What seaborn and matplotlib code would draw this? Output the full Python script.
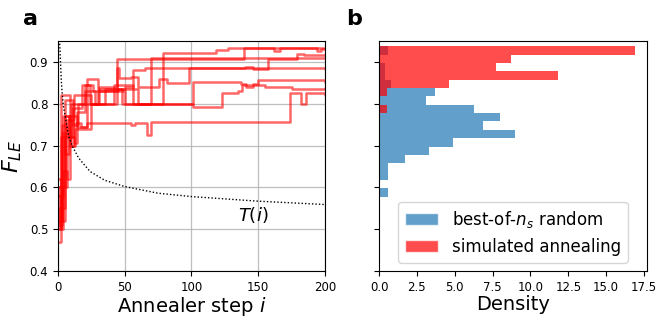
import numpy as np
import pandas as pd
import matplotlib
matplotlib.use("Agg")
import matplotlib.pyplot as plt
from matplotlib.patches import Patch
import seaborn as sns

sns.set_style("ticks")
plt.rcParams["font.family"] = ["DejaVu Sans"]
plt.rcParams["mathtext.fontset"] = "dejavusans"
plt.rcParams["text.color"] = "black"
plt.rcParams["axes.labelcolor"] = "black"
plt.rcParams["xtick.color"] = "black"
plt.rcParams["ytick.color"] = "black"

# ---- panel a: annealing traces (step change points: step, F_LE) ----
run_steps = [
    [0, 1, 2, 9, 12, 25, 35, 48, 79, 118, 127, 162, 166, 200],
    [0, 2, 4, 8, 10, 20, 28, 44, 139, 194, 197, 200],
    [0, 3, 6, 11, 18, 24, 31, 44, 46, 55, 60, 70, 200],
    [0, 1, 3, 5, 8, 14, 22, 30, 40, 50, 56, 65, 140, 146, 157, 179, 184, 200],
    [0, 2, 4, 7, 9, 12, 14, 20, 26, 45, 60, 70, 76, 82, 98, 200],
    [0, 3, 5, 9, 13, 20, 25, 35, 42, 50, 56, 101, 137, 141, 146, 150, 200],
    [0, 2, 5, 11, 15, 30, 50, 101, 123, 135, 138, 150, 155, 170, 175, 200],
    [0, 2, 5, 7, 10, 12, 17, 22, 55, 58, 67, 70, 174, 182, 186, 200],
]
run_values = [
    [0.50, 0.60, 0.822, 0.76, 0.82, 0.80, 0.835, 0.80, 0.921, 0.929, 0.934, 0.926, 0.934, 0.934],
    [0.47, 0.58, 0.77, 0.72, 0.80, 0.83, 0.80, 0.907, 0.934, 0.925, 0.930, 0.930],
    [0.52, 0.75, 0.72, 0.79, 0.845, 0.80, 0.84, 0.885, 0.862, 0.865, 0.84, 0.909, 0.909],
    [0.55, 0.51, 0.73, 0.68, 0.77, 0.745, 0.86, 0.835, 0.835, 0.84, 0.88, 0.885, 0.887, 0.882, 0.907, 0.920, 0.917, 0.917],
    [0.58, 0.50, 0.64, 0.62, 0.72, 0.705, 0.78, 0.845, 0.83, 0.835, 0.80, 0.84, 0.86, 0.85, 0.885, 0.883],
    [0.60, 0.52, 0.77, 0.70, 0.74, 0.74, 0.80, 0.80, 0.845, 0.845, 0.80, 0.853, 0.847, 0.84, 0.847, 0.857, 0.852],
    [0.62, 0.55, 0.81, 0.75, 0.80, 0.83, 0.80, 0.793, 0.826, 0.83, 0.845, 0.845, 0.84, 0.84, 0.835, 0.837],
    [0.50, 0.72, 0.60, 0.76, 0.70, 0.755, 0.745, 0.755, 0.75, 0.755, 0.725, 0.756, 0.825, 0.80, 0.825, 0.822],
]

# temperature schedule curve T(i)
temp_steps = [1.0, 1.5, 2, 2.5, 3, 4, 5.5, 8, 11, 15.5, 24, 35, 50, 75, 100, 150, 200]
temp_values = [0.96, 0.93, 0.89, 0.855, 0.83, 0.795, 0.768, 0.722, 0.697, 0.67, 0.638,
               0.617, 0.602, 0.586, 0.578, 0.567, 0.559]

# ---- panel b: histograms (bin width 0.02, top edge 0.9376, rows top->bottom) ----
bin_top = 0.9376
bin_width = 0.02
random_density = [0.6, 0, 0.37, 0.37, 0.77, 3.71, 3.13, 6.27, 8.01, 6.84, 8.98,
                  4.88, 3.31, 1.74, 0.57, 0.57, 0, 0.57]
anneal_density = [16.93, 8.72, 7.70, 11.81, 4.61, 0.5, 0, 0.5]

x_ticks = [0, 50, 100, 150, 200]
y_ticks = [0.4, 0.5, 0.6, 0.7, 0.8, 0.9]
dens_ticks = [0.0, 2.5, 5.0, 7.5, 10.0, 12.5, 15.0, 17.5]

fig = plt.figure(figsize=(6.65, 3.2), dpi=100)
ax1 = fig.add_axes([0.0872, 0.153, 0.4015, 0.719])
ax2 = fig.add_axes([0.570, 0.153, 0.403, 0.719])

rows = []
for k, (s, v) in enumerate(zip(run_steps, run_values)):
    for a, b in zip(s, v):
        rows.append({"run": k, "step": a, "F": b})
df = pd.DataFrame(rows)

ax1.grid(True, color="#b0b0b0", lw=0.9, alpha=0.8)
ax1.set_axisbelow(True)
sns.lineplot(data=df, x="step", y="F", units="run", estimator=None, color="red",
             alpha=0.6, lw=1.8, drawstyle="steps-post", legend=False, ax=ax1)
tdf = pd.DataFrame({"i": temp_steps, "T": temp_values})
sns.lineplot(data=tdf, x="i", y="T", color="black", lw=1.0, ls=(0, (1, 1.5)), ax=ax1)
ax1.text(146, 0.534, "$T(i)$", fontsize=13, ha="center", va="center")
ax1.set_xlim(0, 200)
ax1.set_ylim(0.4, 0.95)
ax1.set_xticks(x_ticks)
ax1.set_yticks(y_ticks)
ax1.set_xlabel("Annealer step $i$", fontsize=14, labelpad=1)
ax1.set_ylabel("$F_{LE}$", fontsize=16, labelpad=4)
ax1.tick_params(labelsize=8.5)

n_rand = len(random_density)
edges_rand = [bin_top - bin_width * k for k in range(n_rand, -1, -1)]
centers_rand = [bin_top - bin_width * (k + 0.5) for k in range(n_rand)]
n_ann = len(anneal_density)
edges_ann = [bin_top - bin_width * k for k in range(n_ann, -1, -1)]
centers_ann = [bin_top - bin_width * (k + 0.5) for k in range(n_ann)]

blue = "#1f77b4"
sns.histplot(y=centers_rand, weights=random_density, bins=edges_rand, stat="count",
             color=blue, alpha=0.7, linewidth=0, ax=ax2)
sns.histplot(y=centers_ann, weights=anneal_density, bins=edges_ann, stat="count",
             color="red", alpha=0.7, linewidth=0, ax=ax2)
ax2.set_ylim(0.4, 0.95)
ax2.set_xlim(0, 17.7)
ax2.set_yticks(y_ticks)
ax2.set_yticklabels([])
ax2.set_xticks(dens_ticks)
ax2.set_ylabel("")
ax2.set_xlabel("Density", fontsize=14, labelpad=1)
ax2.tick_params(labelsize=8.5)
handles = [Patch(facecolor=blue, alpha=0.7, label="best-of-$n_s$ random"),
           Patch(facecolor="red", alpha=0.7, label="simulated annealing")]
ax2.legend(handles=handles, loc="lower center", fontsize=12, framealpha=0.8)

for ax in (ax1, ax2):
    for sp in ax.spines.values():
        sp.set_visible(True)
        sp.set_color("black")
        sp.set_linewidth(0.8)

fig.text(23 / 665, 1 - 25 / 320, "a", fontsize=16, fontweight="bold", ha="left", va="baseline")
fig.text(346 / 665, 1 - 25 / 320, "b", fontsize=16, fontweight="bold", ha="left", va="baseline")

fig.savefig("out.png", dpi=100)
